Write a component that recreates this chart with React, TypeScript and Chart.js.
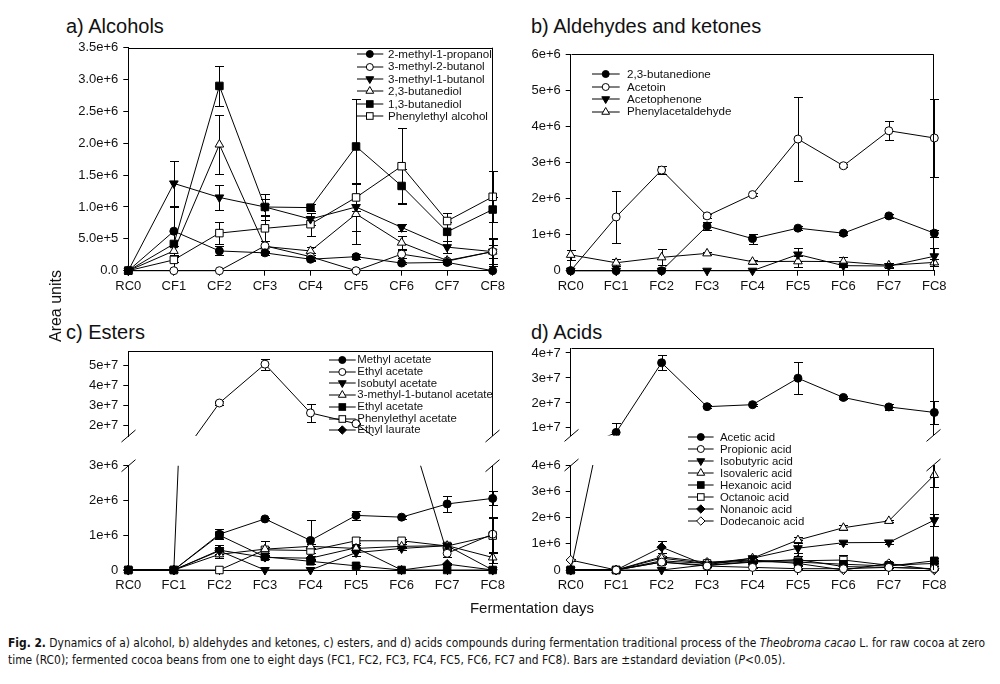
import { useEffect, useLayoutEffect, useRef } from "react";
import { Chart, registerables } from "chart.js";

Chart.register(...registerables);

const FONT = '"Liberation Sans", Arial, Helvetica, sans-serif';
Chart.defaults.font.family = FONT;

// ---------------- categories ----------------
const alcoholDays = ["RC0", "CF1", "CF2", "CF3", "CF4", "CF5", "CF6", "CF7", "CF8"];
const fermentDays = ["RC0", "FC1", "FC2", "FC3", "FC4", "FC5", "FC6", "FC7", "FC8"];

// ---------------- a) Alcohols ----------------
const methylPropanol = [0, 6.2e5, 3.1e5, 2.8e5, 1.8e5, 2.2e5, 1.2e5, 1.3e5, 0];
const methylPropanolSd = [0, 3.8e5, 7e4, 3e4, 3e4, 4e4, 2e4, 3e4, 0];
const methylButan2ol = [0, 0, 0, 3.9e5, 2.2e5, 0, 2.6e5, 1.5e5, 3.0e5];
const methylButan2olSd = [0, 0, 0, 8e4, 5e4, 0, 6e4, 4e4, 2e5];
const methylButan1ol = [0, 1.37e6, 1.15e6, 1.0e6, 8.1e5, 1.0e6, 6.8e5, 3.7e5, 3.0e5];
const methylButan1olSd = [0, 3.5e5, 2e5, 1.2e5, 1e5, 3.7e5, 5e4, 1e5, 2.2e5];
const butanediol23 = [0, 3.1e5, 1.98e6, 3.8e5, 3.1e5, 8.9e5, 4.4e5, 1.6e5, 3.0e5];
const butanediol23Sd = [0, 8e4, 4.6e5, 8e4, 6e4, 4.7e5, 1e5, 3e4, 1e5];
const butanediol13 = [0, 4.2e5, 2.9e6, 1.0e6, 9.9e5, 1.95e6, 1.33e6, 6.1e5, 9.6e5];
const butanediol13Sd = [0, 5.8e5, 3.1e5, 2e5, 5e4, 7.5e5, 2.7e5, 1.5e5, 2e5];
const phenylethylAlcohol = [0, 1.7e5, 5.9e5, 6.65e5, 7.3e5, 1.15e6, 1.64e6, 7.8e5, 1.16e6];
const phenylethylAlcoholSd = [0, 4e4, 1.7e5, 2e5, 1.8e5, 2.2e5, 6e5, 1.3e5, 4e5];

// ---------------- b) Aldehydes and ketones ----------------
const butanedione = [0, 0, 0, 1.24e6, 8.9e5, 1.18e6, 1.04e6, 1.52e6, 1.04e6];
const butanedioneSd = [0, 0, 0, 1.2e5, 1.4e5, 5e4, 4e4, 5e4, 1e5];
const acetoin = [0, 1.49e6, 2.79e6, 1.52e6, 2.11e6, 3.65e6, 2.91e6, 3.88e6, 3.68e6];
const acetoinSd = [0, 7.2e5, 1e5, 6e4, 5e4, 1.17e6, 4e4, 2.7e5, 1.09e6];
const acetophenone = [0, 0, 0, 0, 0, 4.5e5, 1.4e5, 1.3e5, 4.0e5];
const acetophenoneSd = [0, 0, 0, 0, 0, 1.9e5, 3e4, 3e4, 2.2e5];
const phenylacetaldehyde = [4.4e5, 2.2e5, 3.7e5, 4.8e5, 2.5e5, 2.6e5, 2.5e5, 1.5e5, 2.3e5];
const phenylacetaldehydeSd = [1.3e5, 1e5, 2.2e5, 4e4, 6e4, 1.5e5, 1.2e5, 7e4, 1e5];

// ---------------- c) Esters ----------------
const methylAcetate = [0, 0, 1.03e6, 1.47e6, 8.5e5, 1.57e6, 1.52e6, 1.9e6, 2.06e6];
const methylAcetateSd = [0, 0, 1.5e5, 4e4, 6e5, 1.2e5, 4e4, 2.4e5, 2e5];
const ethylAcetate = [0, 0, 3.13e7, 5.05e7, 2.64e7, 2.11e7, 4.8e6, 4.8e5, 1.03e6];
const ethylAcetateSd = [0, 0, 1.2e6, 2.7e6, 4.6e6, 3e5, 2e5, 1e5, 5e5];
const isobutylAcetate = [0, 0, 5.5e5, 0, 0, 5.0e5, 6.2e5, 7.0e5, 0];
const isobutylAcetateSd = [0, 0, 1e5, 0, 0, 1e5, 5e4, 6e4, 0];
const isoamylAcetate = [0, 0, 4.5e5, 6.0e5, 6.8e5, 6.2e5, 6.8e5, 7.0e5, 3.6e5];
const isoamylAcetateSd = [0, 0, 1e5, 2.4e5, 8e4, 1e5, 6e4, 5e4, 1.5e5];
const ethylAcetate2 = [0, 0, 1.0e6, 3.8e5, 2.5e5, 1.2e5, 0, 0, 0];
const ethylAcetate2Sd = [0, 0, 1e5, 6e4, 8e4, 3e4, 0, 0, 0];
const phenylethylAcetate = [0, 0, 0, 5.8e5, 5.6e5, 8.4e5, 8.4e5, 6.9e5, 9.9e5];
const phenylethylAcetateSd = [0, 0, 0, 8e4, 6e4, 1.2e5, 4e4, 1e5, 5e5];
const ethylLaurate = [0, 0, 5.7e5, 3.6e5, 3.4e5, 6.4e5, 0, 1.7e5, 0];
const ethylLaurateSd = [0, 0, 1.6e5, 4e4, 6e4, 1.3e5, 0, 4e4, 0];

// ---------------- d) Acids ----------------
const aceticAcid = [0, 8.2e6, 3.61e7, 1.85e7, 1.93e7, 2.99e7, 2.22e7, 1.84e7, 1.62e7];
const aceticAcidSd = [0, 3.6e6, 3.0e6, 6e5, 4e5, 6.4e6, 5e5, 1.3e6, 4.7e6];
const propionicAcid = [0, 0, 3.0e5, 1.5e5, 1.0e5, 5e4, 5e4, 1.0e5, 5e4];
const propionicAcidSd = [0, 0, 5e4, 2e4, 2e4, 2e4, 2e4, 2e4, 2e4];
const isobutyricAcid = [0, 0, 0, 2.0e5, 4.5e5, 8.3e5, 1.04e6, 1.05e6, 1.9e6];
const isobutyricAcidSd = [0, 0, 0, 3e4, 4e4, 3e5, 5e4, 5e4, 2.2e5];
const isovalericAcid = [0, 0, 4.5e5, 2.5e5, 4.5e5, 1.14e6, 1.61e6, 1.87e6, 3.62e6];
const isovalericAcidSd = [0, 0, 8e4, 3e4, 4e4, 1e5, 1e5, 4e4, 4.5e5];
const hexanoicAcid = [0, 0, 3.0e5, 1.8e5, 3.2e5, 3.0e5, 2.2e5, 1.5e5, 3.5e5];
const hexanoicAcidSd = [0, 0, 6e4, 3e4, 4e4, 5e4, 5e4, 4e4, 1e5];
const octanoicAcid = [0, 0, 3.5e5, 2.5e5, 3.5e5, 3.5e5, 3.8e5, 1.8e5, 2.5e5];
const octanoicAcidSd = [0, 0, 5e4, 3e4, 4e4, 5e4, 1.8e5, 5e4, 1e5];
const nonanoicAcid = [0, 0, 8.7e5, 1.7e5, 3.0e5, 4.0e5, 1.3e5, 1.0e5, 5e4];
const nonanoicAcidSd = [0, 0, 2.2e5, 3e4, 4e4, 2.5e5, 3e4, 3e4, 3e4];
const dodecanoicAcid = [3.8e5, 0, 5.0e5, 3.0e5, 3.8e5, 2.5e5, 0, 2.5e5, 0];
const dodecanoicAcidSd = [3e4, 0, 5e4, 3e4, 3e4, 5e4, 0, 5e4, 0];

// ---------------- ticks ----------------
const alcoholTicks = [0, 5e5, 1e6, 1.5e6, 2e6, 2.5e6, 3e6, 3.5e6];
const alcoholTickLabels = ["0.0", "5.0e+5", "1.0e+6", "1.5e+6", "2.0e+6", "2.5e+6", "3.0e+6", "3.5e+6"];
const aldehydeTicks = [0, 1e6, 2e6, 3e6, 4e6, 5e6, 6e6];
const aldehydeTickLabels = ["0", "1e+6", "2e+6", "3e+6", "4e+6", "5e+6", "6e+6"];
const esterUpperTicks = [2e7, 3e7, 4e7, 5e7];
const esterUpperTickLabels = ["2e+7", "3e+7", "4e+7", "5e+7"];
const esterLowerTicks = [0, 1e6, 2e6, 3e6];
const esterLowerTickLabels = ["0", "1e+6", "2e+6", "3e+6"];
const acidUpperTicks = [1e7, 2e7, 3e7, 4e7];
const acidUpperTickLabels = ["1e+7", "2e+7", "3e+7", "4e+7"];
const acidLowerTicks = [0, 1e6, 2e6, 3e6, 4e6];
const acidLowerTickLabels = ["0", "1e+6", "2e+6", "3e+6", "4e+6"];

// ---------------- series tables ----------------
type Marker = "fc" | "oc" | "ftd" | "otu" | "fs" | "os" | "fd" | "od";
type Series = { label: string; data: number[]; sd: number[]; marker: Marker };

const alcoholSeries: Series[] = [
  { label: "2-methyl-1-propanol", data: methylPropanol, sd: methylPropanolSd, marker: "fc" },
  { label: "3-methyl-2-butanol", data: methylButan2ol, sd: methylButan2olSd, marker: "oc" },
  { label: "3-methyl-1-butanol", data: methylButan1ol, sd: methylButan1olSd, marker: "ftd" },
  { label: "2,3-butanediol", data: butanediol23, sd: butanediol23Sd, marker: "otu" },
  { label: "1,3-butanediol", data: butanediol13, sd: butanediol13Sd, marker: "fs" },
  { label: "Phenylethyl alcohol", data: phenylethylAlcohol, sd: phenylethylAlcoholSd, marker: "os" },
];
const aldehydeSeries: Series[] = [
  { label: "2,3-butanedione", data: butanedione, sd: butanedioneSd, marker: "fc" },
  { label: "Acetoin", data: acetoin, sd: acetoinSd, marker: "oc" },
  { label: "Acetophenone", data: acetophenone, sd: acetophenoneSd, marker: "ftd" },
  { label: "Phenylacetaldehyde", data: phenylacetaldehyde, sd: phenylacetaldehydeSd, marker: "otu" },
];
const esterSeries: Series[] = [
  { label: "Methyl acetate", data: methylAcetate, sd: methylAcetateSd, marker: "fc" },
  { label: "Ethyl acetate", data: ethylAcetate, sd: ethylAcetateSd, marker: "oc" },
  { label: "Isobutyl acetate", data: isobutylAcetate, sd: isobutylAcetateSd, marker: "ftd" },
  { label: "3-methyl-1-butanol acetate", data: isoamylAcetate, sd: isoamylAcetateSd, marker: "otu" },
  { label: "Ethyl acetate", data: ethylAcetate2, sd: ethylAcetate2Sd, marker: "fs" },
  { label: "Phenylethyl acetate", data: phenylethylAcetate, sd: phenylethylAcetateSd, marker: "os" },
  { label: "Ethyl laurate", data: ethylLaurate, sd: ethylLaurateSd, marker: "fd" },
];
const acidSeries: Series[] = [
  { label: "Acetic acid", data: aceticAcid, sd: aceticAcidSd, marker: "fc" },
  { label: "Propionic acid", data: propionicAcid, sd: propionicAcidSd, marker: "oc" },
  { label: "Isobutyric acid", data: isobutyricAcid, sd: isobutyricAcidSd, marker: "ftd" },
  { label: "Isovaleric acid", data: isovalericAcid, sd: isovalericAcidSd, marker: "otu" },
  { label: "Hexanoic acid", data: hexanoicAcid, sd: hexanoicAcidSd, marker: "fs" },
  { label: "Octanoic acid", data: octanoicAcid, sd: octanoicAcidSd, marker: "os" },
  { label: "Nonanoic acid", data: nonanoicAcid, sd: nonanoicAcidSd, marker: "fd" },
  { label: "Dodecanoic acid", data: dodecanoicAcid, sd: dodecanoicAcidSd, marker: "od" },
];

const markerDefs: Record<Marker, { style: string; r: number; rot: number; bg: string }> = {
  fc: { style: "circle", r: 4, rot: 0, bg: "#000" },
  oc: { style: "circle", r: 4, rot: 0, bg: "#fff" },
  ftd: { style: "triangle", r: 5, rot: 180, bg: "#000" },
  otu: { style: "triangle", r: 5, rot: 0, bg: "#fff" },
  fs: { style: "rect", r: 5.3, rot: 0, bg: "#000" },
  os: { style: "rect", r: 5.3, rot: 0, bg: "#fff" },
  fd: { style: "rectRot", r: 4.6, rot: 0, bg: "#000" },
  od: { style: "rectRot", r: 4.6, rot: 0, bg: "#fff" },
};

// ---------------- plugins ----------------
const errorBarPlugin = {
  id: "errorBars",
  beforeDatasetsDraw(chart: any) {
    const { ctx, chartArea } = chart;
    const yScale = chart.scales.y;
    ctx.save();
    ctx.beginPath();
    ctx.rect(chartArea.left - 12, chartArea.top, chartArea.right - chartArea.left + 24, chartArea.bottom - chartArea.top);
    ctx.clip();
    ctx.strokeStyle = "#000";
    ctx.lineWidth = 1;
    chart.data.datasets.forEach((ds: any, i: number) => {
      const meta = chart.getDatasetMeta(i);
      const sd: number[] = ds.sd || [];
      meta.data.forEach((pt: any, j: number) => {
        const e = sd[j];
        if (!e) return;
        const v = ds.data[j];
        const x = Math.round(pt.x) + 0.5;
        const y1 = Math.round(yScale.getPixelForValue(v + e)) + 0.5;
        const y2 = Math.round(yScale.getPixelForValue(v - e)) + 0.5;
        ctx.beginPath();
        ctx.moveTo(x, y1);
        ctx.lineTo(x, y2);
        ctx.moveTo(x - 4.5, y1);
        ctx.lineTo(x + 4.5, y1);
        ctx.moveTo(x - 4.5, y2);
        ctx.lineTo(x + 4.5, y2);
        ctx.stroke();
      });
    });
    ctx.restore();
  },
};

const framePlugin = {
  id: "frame",
  afterDraw(chart: any, _args: any, opts: any) {
    const { ctx, chartArea } = chart;
    const l = Math.round(chartArea.left) + 0.5;
    const r = Math.round(chartArea.right) - 0.5;
    const t = Math.round(chartArea.top) + 0.5;
    ctx.save();
    ctx.strokeStyle = "#000";
    ctx.lineWidth = 1;
    ctx.beginPath();
    if (opts.top) {
      ctx.moveTo(l, t);
      ctx.lineTo(r, t);
    }
    if (opts.right) {
      ctx.moveTo(r, chartArea.top);
      ctx.lineTo(r, chartArea.bottom);
    }
    const mark = (x: number, y: number) => {
      ctx.moveTo(x - 7, y + 6);
      ctx.lineTo(x + 7, y - 6);
    };
    if (opts.breakBottom) {
      mark(l, chartArea.bottom);
      mark(r, chartArea.bottom);
    }
    if (opts.breakTop) {
      mark(l, chartArea.top);
      mark(r, chartArea.top);
    }
    ctx.stroke();
    ctx.restore();
  },
};

// ---------------- chart panel ----------------
type Box = { left: number; top: number; width: number; height: number };
type Area = { left: number; top: number; right: number; bottom: number };

interface PanelProps {
  box: Box;
  area: Area;
  labels: string[];
  series: Series[];
  yMin: number;
  yMax: number;
  tickValues: number[];
  tickLabels: string[];
  showX: boolean;
  frame: { top: boolean; right: boolean; breakTop?: boolean; breakBottom?: boolean };
  clip: { left: number; top: number; right: number; bottom: number };
}

function Panel(p: PanelProps) {
  const ref = useRef<HTMLCanvasElement>(null);
  useEffect(() => {
    const canvas = ref.current;
    if (!canvas) return;
    const padTop = p.area.top - p.box.top;
    const padRight = p.box.left + p.box.width - p.area.right;
    const yWidth = p.area.left - p.box.left;
    const below = p.box.top + p.box.height - p.area.bottom;
    const axisGrid = { display: true, drawOnChartArea: false, drawTicks: true, tickLength: 5, color: "#000", lineWidth: 1 };
    const axisBorder = { display: true, color: "#000", width: 1 };
    const chart = new Chart(canvas, {
      type: "line",
      data: {
        labels: p.labels,
        datasets: p.series.map((s) => {
          const m = markerDefs[s.marker];
          return {
            label: s.label,
            data: s.data,
            sd: s.sd,
            borderColor: "#000",
            borderWidth: 1,
            tension: 0,
            fill: false,
            pointStyle: m.style,
            pointRadius: m.r,
            pointRotation: m.rot,
            pointBackgroundColor: m.bg,
            pointBorderColor: "#000",
            pointBorderWidth: 1,
            clip: p.clip,
          } as any;
        }),
      },
      options: {
        animation: false,
        responsive: false,
        events: [],
        layout: { padding: { left: 0, top: padTop, right: padRight, bottom: p.showX ? 0 : below } },
        plugins: {
          legend: { display: false },
          tooltip: { enabled: false },
          frame: p.frame,
        } as any,
        scales: {
          x: {
            type: "category",
            display: p.showX,
            offset: false,
            grid: axisGrid,
            border: axisBorder,
            ticks: { color: "#111", font: { family: FONT, size: 13 }, padding: 3, maxRotation: 0, minRotation: 0, autoSkip: false },
            afterFit: (s: any) => {
              s.height = below;
            },
          },
          y: {
            type: "linear",
            min: p.yMin,
            max: p.yMax,
            grid: axisGrid,
            border: axisBorder,
            ticks: {
              color: "#111",
              font: { family: FONT, size: 13 },
              padding: 5,
              autoSkip: false,
              callback: (_v: any, i: number) => p.tickLabels[i],
            },
            afterBuildTicks: (s: any) => {
              s.ticks = p.tickValues.map((v) => ({ value: v }));
            },
            afterFit: (s: any) => {
              s.width = yWidth;
            },
          },
        } as any,
      },
      plugins: [errorBarPlugin, framePlugin],
    });
    return () => chart.destroy();
  }, []);
  return (
    <canvas
      ref={ref}
      width={p.box.width}
      height={p.box.height}
      style={{ position: "absolute", left: p.box.left, top: p.box.top, width: p.box.width, height: p.box.height }}
    />
  );
}

// ---------------- legend ----------------
function MarkerIcon({ m, cx, cy }: { m: Marker; cx: number; cy: number }) {
  const fill = markerDefs[m].bg;
  const common = { fill, stroke: "#000", strokeWidth: 1 };
  const s60 = Math.sin(Math.PI / 3);
  switch (m) {
    case "fc":
    case "oc":
      return <circle cx={cx} cy={cy} r={3.5} {...common} />;
    case "fs":
    case "os":
      return <rect x={cx - 3.3} y={cy - 3.3} width={6.6} height={6.6} {...common} />;
    case "ftd": {
      const r = 4.5;
      return <polygon points={`${cx},${cy + r} ${cx - r * s60},${cy - r / 2} ${cx + r * s60},${cy - r / 2}`} {...common} />;
    }
    case "otu": {
      const r = 4.5;
      return <polygon points={`${cx},${cy - r} ${cx - r * s60},${cy + r / 2} ${cx + r * s60},${cy + r / 2}`} {...common} />;
    }
    default: {
      const r = 4.2;
      return <polygon points={`${cx - r},${cy} ${cx},${cy - r} ${cx + r},${cy} ${cx},${cy + r}`} {...common} />;
    }
  }
}

function Legend(props: { series: Series[]; x1: number; x2: number; mx: number; tx: number; y0: number; step: number; size: number }) {
  const { series, x1, x2, mx, tx, y0, step, size } = props;
  return (
    <>
      {series.map((s, i) => {
        const cy = y0 + i * step;
        const w = x2 - x1 + 12;
        return (
          <div key={i}>
            <svg
              width={w}
              height={14}
              style={{ position: "absolute", left: x1 - 6, top: cy - 7, overflow: "visible" }}
            >
              <line x1={6} y1={7} x2={w - 6} y2={7} stroke="#000" strokeWidth={1} />
              <MarkerIcon m={s.marker} cx={mx - x1 + 6} cy={7} />
            </svg>
            <div
              style={{
                position: "absolute",
                left: tx,
                top: cy - step / 2,
                height: step,
                lineHeight: `${step}px`,
                fontSize: size,
                whiteSpace: "nowrap",
                color: "#111",
              }}
            >
              {s.label}
            </div>
          </div>
        );
      })}
    </>
  );
}

function Text(props: { x: number; baseline: number; size: number; children: any; style?: any }) {
  return (
    <div
      style={{
        position: "absolute",
        left: props.x,
        top: props.baseline - 0.8465 * props.size,
        fontSize: props.size,
        lineHeight: `${props.size}px`,
        whiteSpace: "nowrap",
        color: "#111",
        ...(props.style || {}),
      }}
    >
      {props.children}
    </div>
  );
}

function Caption() {
  const l1 = useRef<HTMLDivElement>(null);
  const l2 = useRef<HTMLDivElement>(null);
  useLayoutEffect(() => {
    if (!l1.current || !l2.current) return;
    const w = l1.current.getBoundingClientRect().width;
    const s = 977 / w;
    l1.current.style.transform = `scaleX(${s})`;
    l2.current.style.transform = `scaleX(${s})`;
  }, []);
  const base = {
    position: "absolute" as const,
    left: 8,
    fontSize: 13,
    lineHeight: "13px",
    whiteSpace: "nowrap" as const,
    color: "#111",
    transformOrigin: "left center",
    fontFamily: '"Liberation Sans Narrow", "DejaVu Sans Condensed", "Liberation Sans", sans-serif',
  };
  return (
    <>
      <div ref={l1} style={{ ...base, top: 636 }}>
        <b>Fig. 2.</b> Dynamics of a) alcohol, b) aldehydes and ketones, c) esters, and d) acids compounds during fermentation
        traditional process of the <i>Theobroma cacao</i> L. for raw cocoa at zero
      </div>
      <div ref={l2} style={{ ...base, top: 653 }}>
        time (RC0); fermented cocoa beans from one to eight days (FC1, FC2, FC3, FC4, FC5, FC6, FC7 and FC8). Bars are ±standard
        deviation (<i>P</i>&lt;0.05).
      </div>
    </>
  );
}

const clipAll = { left: 8, top: 8, right: 8, bottom: 8 };
const clipUpper = { left: 8, top: 8, right: 8, bottom: 0 };
const clipLower = { left: 8, top: 0, right: 8, bottom: 8 };

export default function App() {
  return (
    <div
      style={{
        position: "absolute",
        left: 0,
        top: 0,
        width: 1000,
        height: 684,
        overflow: "hidden",
        background: "#fff",
        fontFamily: FONT,
      }}
    >
      {/* titles */}
      <Text x={66} baseline={33.3} size={20}>a) Alcohols</Text>
      <Text x={531} baseline={33.3} size={20}>b) Aldehydes and ketones</Text>
      <Text x={66} baseline={339.3} size={20}>c) Esters</Text>
      <Text x={531} baseline={339.3} size={20}>d) Acids</Text>

      {/* a */}
      <Panel
        box={{ left: 58, top: 28, width: 458, height: 274 }}
        area={{ left: 128.3, top: 47.7, right: 492.7, bottom: 270.7 }}
        labels={alcoholDays}
        series={alcoholSeries}
        yMin={0}
        yMax={3.5e6}
        tickValues={alcoholTicks}
        tickLabels={alcoholTickLabels}
        showX={true}
        frame={{ top: true, right: true }}
        clip={clipAll}
      />
      {/* b */}
      <Panel
        box={{ left: 500, top: 28, width: 462, height: 274 }}
        area={{ left: 570.7, top: 54.3, right: 934.3, bottom: 270.7 }}
        labels={fermentDays}
        series={aldehydeSeries}
        yMin={0}
        yMax={6e6}
        tickValues={aldehydeTicks}
        tickLabels={aldehydeTickLabels}
        showX={true}
        frame={{ top: true, right: true }}
        clip={clipAll}
      />
      {/* c upper */}
      <Panel
        box={{ left: 58, top: 330, width: 458, height: 142 }}
        area={{ left: 128.3, top: 351, right: 492.7, bottom: 454 }}
        labels={fermentDays}
        series={esterSeries}
        yMin={1.5e7}
        yMax={5.7e7}
        tickValues={esterUpperTicks}
        tickLabels={esterUpperTickLabels}
        showX={false}
        frame={{ top: true, right: true, breakBottom: true }}
        clip={clipUpper}
      />
      {/* c lower */}
      <Panel
        box={{ left: 58, top: 446, width: 458, height: 156 }}
        area={{ left: 128.3, top: 465.7, right: 492.7, bottom: 570 }}
        labels={fermentDays}
        series={esterSeries}
        yMin={0}
        yMax={3e6}
        tickValues={esterLowerTicks}
        tickLabels={esterLowerTickLabels}
        showX={true}
        frame={{ top: false, right: true, breakTop: true }}
        clip={clipLower}
      />
      {/* d upper */}
      <Panel
        box={{ left: 500, top: 328, width: 462, height: 142 }}
        area={{ left: 570.7, top: 348, right: 934.3, bottom: 452.7 }}
        labels={fermentDays}
        series={acidSeries}
        yMin={7e6}
        yMax={4.2e7}
        tickValues={acidUpperTicks}
        tickLabels={acidUpperTickLabels}
        showX={false}
        frame={{ top: true, right: true, breakBottom: true }}
        clip={clipUpper}
      />
      {/* d lower */}
      <Panel
        box={{ left: 500, top: 446, width: 462, height: 156 }}
        area={{ left: 570.7, top: 465, right: 934.3, bottom: 570 }}
        labels={fermentDays}
        series={acidSeries}
        yMin={0}
        yMax={4e6}
        tickValues={acidLowerTicks}
        tickLabels={acidLowerTickLabels}
        showX={true}
        frame={{ top: false, right: true, breakTop: true }}
        clip={clipLower}
      />

      {/* legends */}
      <Legend series={alcoholSeries} x1={356.7} x2={383} mx={369.5} tx={388} y0={54.3} step={12.35} size={11.6} />
      <Legend series={aldehydeSeries} x1={592.3} x2={620} mx={606} tx={627} y0={74.3} step={12.45} size={11.6} />
      <Legend series={esterSeries} x1={329} x2={355.7} mx={342.3} tx={357.3} y0={360} step={11.7} size={11.4} />
      <Legend series={acidSeries} x1={687.7} x2={713.3} mx={700.5} tx={720} y0={436.7} step={12.0} size={11.4} />

      {/* axis titles */}
      <div
        style={{
          position: "absolute",
          left: 56 - 60,
          top: 306 - 8,
          width: 120,
          height: 16,
          lineHeight: "16px",
          fontSize: 16,
          textAlign: "center",
          whiteSpace: "nowrap",
          transform: "rotate(-90deg)",
          transformOrigin: "center center",
          color: "#111",
        }}
      >
        Area units
      </div>
      <div
        style={{
          position: "absolute",
          left: 532 - 100,
          top: 613 - 0.8465 * 15,
          width: 200,
          lineHeight: "15px",
          fontSize: 15,
          textAlign: "center",
          whiteSpace: "nowrap",
          color: "#111",
        }}
      >
        Fermentation days
      </div>

      <Caption />
    </div>
  );
}
